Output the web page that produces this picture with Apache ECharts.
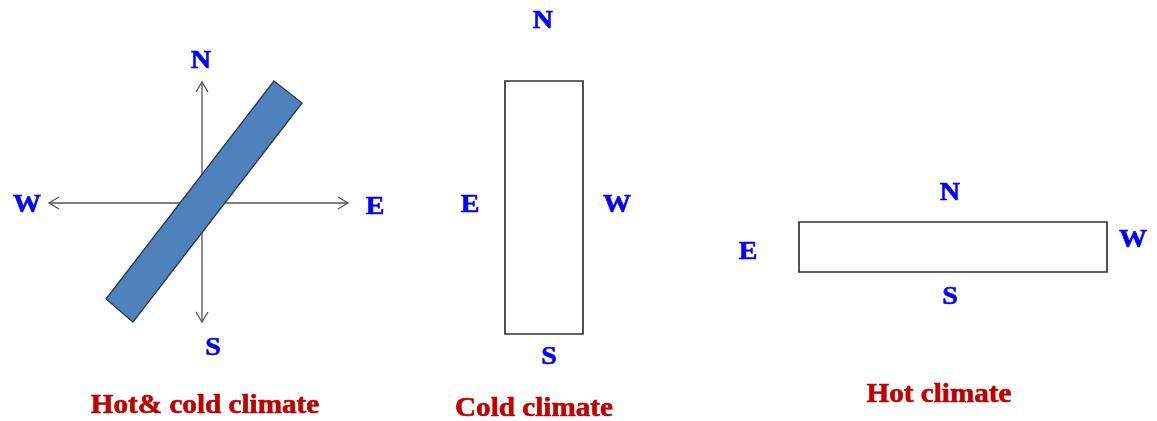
<!DOCTYPE html>
<html><head><meta charset="utf-8">
<script src="https://cdn.jsdelivr.net/npm/echarts@6/dist/echarts.min.js"></script>
<style>html,body{margin:0;background:#fff}#c{width:1157px;height:421px}</style>
</head>
<body><div id="c"></div>
<script>
// Diagram geometry (data units = reference pixel space)
const barCorners = [[274,81],[302,103],[133,322],[106,299]];
const arrowAxes = [[202,82,202,322],[49,203,348,203]];
const boxes = [[505,81,583,334],[799,222,1107,272]];
const dirLabels = ['N','S','W','E','N','E','W','S','N','E','W','S'];
const dirX = [201,213,27,375,543,470,617,549,950,748,1133,950];
const dirY = [61,348,205,207,21,205,205,357,193,252,240,297];
const titles = ['Hot& cold climate','Cold climate','Hot climate'];
const titleX = [205,534,939];
const titleY = [406,409,395];

const chart = echarts.init(document.getElementById('c'), null, {renderer:'canvas'});

function chevron(tip, ux, uy, len, half){
  const bx = tip[0] - ux*len, by = tip[1] - uy*len;
  const px = -uy, py = ux;
  return [[bx + px*half, by + py*half], tip, [bx - px*half, by - py*half]];
}

chart.setOption({
  animation:false,
  grid:{left:0,right:0,top:0,bottom:0},
  xAxis:{type:'value',min:0,max:1157,show:false},
  yAxis:{type:'value',min:0,max:421,inverse:true,show:false},
  series:[
    {
      type:'custom', clip:false,
      data:[barCorners.flat()],
      renderItem:(params, api)=>{
        const pts=[];
        for(let i=0;i<4;i++) pts.push(api.coord([api.value(i*2), api.value(i*2+1)]));
        return {type:'polygon', shape:{points:pts}, style:{fill:'#4F81BD', stroke:'#2b3a4f', lineWidth:1.3}};
      }
    },
    {
      type:'custom', clip:false, z:1,
      data:arrowAxes,
      renderItem:(params, api)=>{
        const a = api.coord([api.value(0), api.value(1)]);
        const b = api.coord([api.value(2), api.value(3)]);
        const dx=b[0]-a[0], dy=b[1]-a[1], L=Math.hypot(dx,dy), ux=dx/L, uy=dy/L;
        const st={stroke:'#555', lineWidth:1.3, fill:null};
        return {type:'group', children:[
          {type:'line', shape:{x1:a[0],y1:a[1],x2:b[0],y2:b[1]}, style:st},
          {type:'polyline', shape:{points:chevron(b,ux,uy,10,6)}, style:st},
          {type:'polyline', shape:{points:chevron(a,-ux,-uy,10,6)}, style:st}
        ]};
      }
    },
    {
      type:'custom', clip:false,
      data:boxes,
      renderItem:(params, api)=>{
        const p1 = api.coord([api.value(0), api.value(1)]);
        const p2 = api.coord([api.value(2), api.value(3)]);
        return {type:'rect', shape:{x:p1[0], y:p1[1], width:p2[0]-p1[0], height:p2[1]-p1[1]},
          style:{fill:'#fff', stroke:'#333', lineWidth:1.7}};
      }
    },
    {
      type:'custom', clip:false,
      data:dirX.map((x,i)=>[x, dirY[i]]),
      renderItem:(params, api)=>{
        const p = api.coord([api.value(0), api.value(1)]);
        return {type:'text', x:p[0], y:p[1], scaleX:1.08,
          style:{text:dirLabels[params.dataIndex], fill:'#0000ff', stroke:'#0000ff', lineWidth:0.6,
            font:'bold 26px "Liberation Serif", serif', align:'center', verticalAlign:'middle'}};
      }
    },
    {
      type:'custom', clip:false,
      data:titleX.map((x,i)=>[x, titleY[i]]),
      renderItem:(params, api)=>{
        const p = api.coord([api.value(0), api.value(1)]);
        return {type:'text', x:p[0], y:p[1], scaleX:1.08,
          style:{text:titles[params.dataIndex], fill:'#c00000', stroke:'#c00000', lineWidth:0.6,
            font:'bold 27px "Liberation Serif", serif', align:'center', verticalAlign:'middle'}};
      }
    }
  ]
});
</script>
</body></html>
